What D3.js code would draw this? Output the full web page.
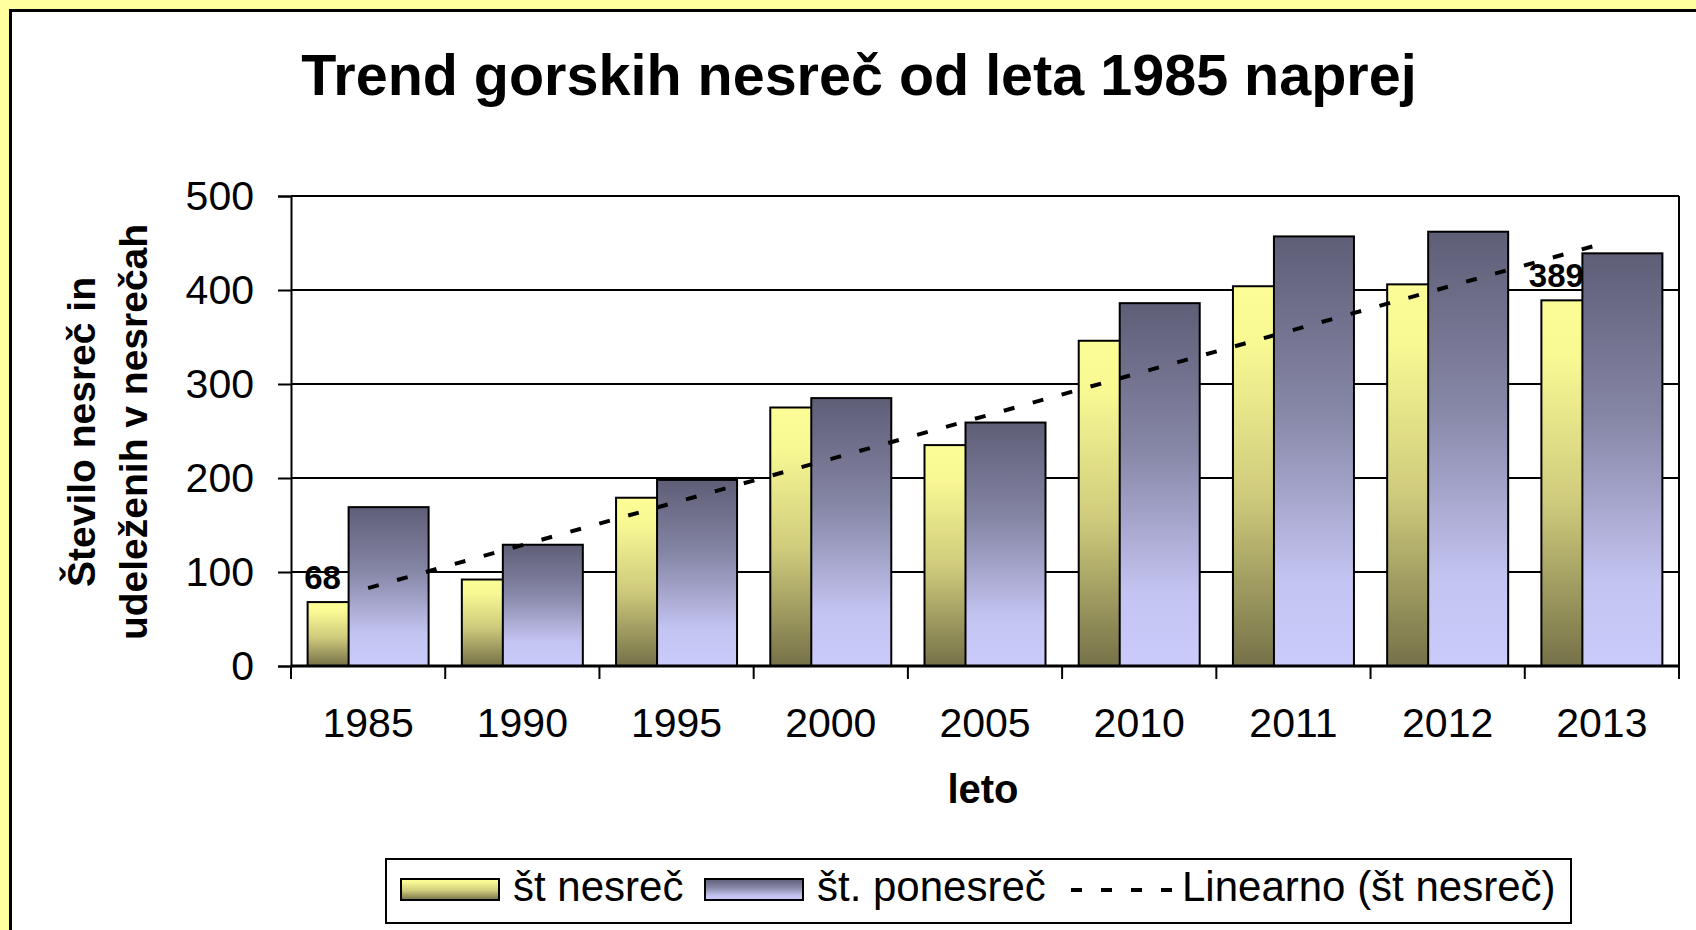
<!DOCTYPE html>
<html>
<head>
<meta charset="utf-8">
<script src="https://cdn.jsdelivr.net/npm/d3@7"></script>
<style>
  body { margin: 0; background: #ffffa0; }
  svg { display: block; font-family: "Liberation Sans", Arial, sans-serif; }
</style>
</head>
<body>
<div class="container"></div>
<script>
const years = ["1985", "1990", "1995", "2000", "2005", "2010", "2011", "2012", "2013"];
const nesrec = [68, 92, 179, 275, 235, 346, 404, 406, 389];
const ponesrec = [169, 129, 198, 285, 259, 386, 457, 462, 439];
const yTicks = [0, 100, 200, 300, 400, 500];
const labelIdx = [0, 8];

const width = 1696;
const height = 930;
const plot = { left: 291, right: 1679, top: 196, bottom: 666 };
const font = "'Liberation Sans', Arial, sans-serif";

const svg = d3
  .select(".container")
  .append("svg")
  .attr("width", width)
  .attr("height", height);

// gradients
const defs = svg.append("defs");
const gradYellow = defs
  .append("linearGradient")
  .attr("id", "gYellow")
  .attr("x1", 0).attr("y1", 0).attr("x2", 0).attr("y2", 1);
gradYellow.append("stop").attr("offset", "0%").attr("stop-color", "#fdfd98");
gradYellow.append("stop").attr("offset", "15%").attr("stop-color", "#f9f994");
gradYellow.append("stop").attr("offset", "55%").attr("stop-color", "#cfcb7c");
gradYellow.append("stop").attr("offset", "100%").attr("stop-color", "#757148");

const gradBlue = defs
  .append("linearGradient")
  .attr("id", "gBlue")
  .attr("x1", 0).attr("y1", 0).attr("x2", 0).attr("y2", 1);
gradBlue.append("stop").attr("offset", "0%").attr("stop-color", "#5e5e77");
gradBlue.append("stop").attr("offset", "40%").attr("stop-color", "#8686a6");
gradBlue.append("stop").attr("offset", "80%").attr("stop-color", "#c4c4f2");
gradBlue.append("stop").attr("offset", "100%").attr("stop-color", "#cbcbfb");

// background frame
svg.append("rect")
  .attr("width", width).attr("height", height)
  .attr("fill", "#ffffa0");
svg.append("rect")
  .attr("x", 10.5).attr("y", 10.5)
  .attr("width", 1720).attr("height", 1000)
  .attr("fill", "#fff")
  .attr("stroke", "#000")
  .attr("stroke-width", 3);

// title
svg.append("text")
  .attr("x", 859).attr("y", 95)
  .attr("text-anchor", "middle")
  .attr("font-size", 57.5)
  .attr("font-weight", "bold")
  .text("Trend gorskih nesreč od leta 1985 naprej");

const xScale = d3
  .scaleBand()
  .domain(years)
  .range([plot.left, plot.right]);

const yScale = d3
  .scaleLinear()
  .domain([0, 500])
  .range([plot.bottom, plot.top]);

const barW = 80;
const shift = 41;
const groupOff = (xScale.bandwidth() - (barW + shift)) / 2;

// gridlines
svg.append("g")
  .selectAll("line")
  .data(yTicks)
  .enter()
  .append("line")
  .attr("x1", plot.left)
  .attr("x2", plot.right)
  .attr("y1", d => yScale(d))
  .attr("y2", d => yScale(d))
  .attr("stroke", "#000")
  .attr("stroke-width", 2);

// right border
svg.append("line")
  .attr("x1", plot.right).attr("x2", plot.right)
  .attr("y1", plot.top).attr("y2", plot.bottom)
  .attr("stroke", "#000").attr("stroke-width", 2);

// y axis
const yAxis = svg.append("g")
  .attr("transform", `translate(${plot.left},0)`)
  .call(d3.axisLeft(yScale).tickValues(yTicks).tickSize(13).tickPadding(24));
yAxis.select(".domain").attr("stroke", "#000").attr("stroke-width", 2);
yAxis.selectAll(".tick line").attr("stroke", "#000").attr("stroke-width", 2);
yAxis.selectAll(".tick text")
  .attr("font-family", font)
  .attr("font-size", 41)
  .attr("fill", "#000");

// bars
const bars = svg.append("g").attr("id", "bar-group");
bars.selectAll("rect.nes")
  .data(nesrec)
  .enter()
  .append("rect")
  .attr("class", "nes")
  .attr("x", (d, i) => xScale(years[i]) + groupOff)
  .attr("y", d => yScale(d))
  .attr("width", barW)
  .attr("height", d => yScale(0) - yScale(d))
  .attr("fill", "url(#gYellow)")
  .attr("stroke", "#000")
  .attr("stroke-width", 2);

bars.selectAll("rect.pon")
  .data(ponesrec)
  .enter()
  .append("rect")
  .attr("class", "pon")
  .attr("x", (d, i) => xScale(years[i]) + groupOff + shift)
  .attr("y", d => yScale(d))
  .attr("width", barW)
  .attr("height", d => yScale(0) - yScale(d))
  .attr("fill", "url(#gBlue)")
  .attr("stroke", "#000")
  .attr("stroke-width", 2);

// linear trend of nesrec
const xs = d3.range(1, nesrec.length + 1);
const mx = d3.mean(xs);
const my = d3.mean(nesrec);
const slope =
  d3.sum(xs, (x, i) => (x - mx) * (nesrec[i] - my)) /
  d3.sum(xs, x => (x - mx) * (x - mx));
const icpt = my - slope * mx;
const trend = [xs[0], xs[xs.length - 1]].map(x => ({
  year: years[x - 1],
  v: icpt + slope * x
}));

svg.append("path")
  .datum(trend)
  .attr("fill", "none")
  .attr("stroke", "#000")
  .attr("stroke-width", 4)
  .attr("stroke-dasharray", "11,19")
  .attr("d", d3.line()
    .x(d => xScale(d.year) + xScale.bandwidth() / 2)
    .y(d => yScale(d.v)));

// data labels
svg.append("g")
  .selectAll("text")
  .data(labelIdx)
  .enter()
  .append("text")
  .attr("x", i => xScale(years[i]) + groupOff + barW / 2 - 25)
  .attr("y", i => yScale(nesrec[i]) - 13)
  .attr("text-anchor", "middle")
  .attr("font-size", 33)
  .attr("font-weight", "bold")
  .text(i => nesrec[i]);

// x axis
svg.append("line")
  .attr("x1", plot.left).attr("x2", plot.right)
  .attr("y1", plot.bottom).attr("y2", plot.bottom)
  .attr("stroke", "#000").attr("stroke-width", 3);

svg.append("g")
  .selectAll("line")
  .data(years.concat(["end"]))
  .enter()
  .append("line")
  .attr("x1", d => (d === "end" ? plot.right : xScale(d)))
  .attr("x2", d => (d === "end" ? plot.right : xScale(d)))
  .attr("y1", plot.bottom)
  .attr("y2", plot.bottom + 13)
  .attr("stroke", "#000")
  .attr("stroke-width", 2);

svg.append("g")
  .selectAll("text")
  .data(years)
  .enter()
  .append("text")
  .attr("x", d => xScale(d) + xScale.bandwidth() / 2)
  .attr("y", 737)
  .attr("text-anchor", "middle")
  .attr("font-size", 41)
  .text(d => d);

svg.append("text")
  .attr("x", 983).attr("y", 803)
  .attr("text-anchor", "middle")
  .attr("font-size", 40)
  .attr("font-weight", "bold")
  .text("leto");

// y title
const yTitle = svg.append("text")
  .attr("transform", "translate(0,432) rotate(-90)")
  .attr("text-anchor", "middle")
  .attr("font-size", 39)
  .attr("font-weight", "bold");
yTitle.append("tspan").attr("x", 0).attr("y", 95).text("Število nesreč in");
yTitle.append("tspan").attr("x", 0).attr("y", 147).text("udeleženih v nesrečah");

// legend
const legend = svg.append("g");
legend.append("rect")
  .attr("x", 386).attr("y", 859)
  .attr("width", 1185).attr("height", 64)
  .attr("fill", "#fff")
  .attr("stroke", "#000")
  .attr("stroke-width", 2);

const legItems = [
  { swatch: "url(#gYellow)", x: 401, text: "št nesreč" },
  { swatch: "url(#gBlue)", x: 705, text: "št. ponesreč" }
];
legend.selectAll("rect.sw")
  .data(legItems)
  .enter()
  .append("rect")
  .attr("class", "sw")
  .attr("x", d => d.x).attr("y", 879)
  .attr("width", 98).attr("height", 21)
  .attr("fill", d => d.swatch)
  .attr("stroke", "#000")
  .attr("stroke-width", 2);
legend.selectAll("text.lt")
  .data(legItems)
  .enter()
  .append("text")
  .attr("class", "lt")
  .attr("x", d => d.x + 112).attr("y", 901)
  .attr("font-size", 42)
  .text(d => d.text);

legend.append("line")
  .attr("x1", 1071).attr("x2", 1172)
  .attr("y1", 890).attr("y2", 890)
  .attr("stroke", "#000")
  .attr("stroke-width", 4)
  .attr("stroke-dasharray", "11,19");
legend.append("text")
  .attr("x", 1182).attr("y", 901)
  .attr("font-size", 42)
  .text("Linearno (št nesreč)");
</script>
</body>
</html>
